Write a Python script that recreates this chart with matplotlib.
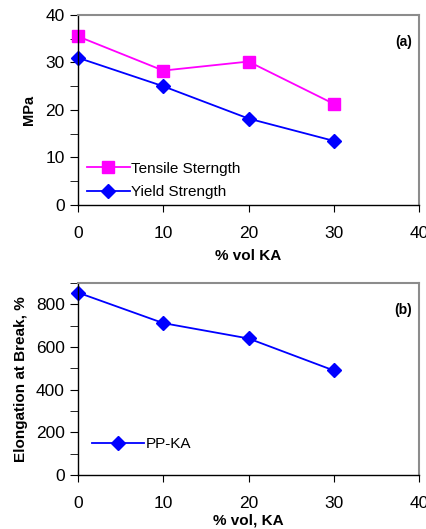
import matplotlib
matplotlib.use("Agg")
import matplotlib.pyplot as plt

plt.rcParams['font.family'] = ['Liberation Sans', 'DejaVu Sans']

# data
vol_ka = [0, 10, 20, 30]
tensile = [35.5, 28.3, 30.2, 21.3]
yield_str = [31.0, 25.0, 18.2, 13.5]
elongation = [855, 712, 640, 490]

MAGENTA = '#ff00ff'
BLUE = '#0000ff'
GREY = '#8c8c8c'


def style_axes(ax, ymax, ystep, minor):
    """estilo comun de los dos paneles"""
    ax.set_xlim(0, 40)
    ax.set_ylim(0, ymax)
    ax.set_xticks([0, 10, 20, 30, 40])
    ax.set_yticks(range(0, ymax + 1, ystep))
    ax.set_yticks(range(0, ymax + 1, minor), minor=True)
    ax.tick_params(axis='x', direction='out', length=5, pad=10, labelsize=12.5)
    ax.tick_params(axis='y', which='both', direction='out', length=6, labelsize=12.5)
    ax.spines['top'].set_color(GREY)
    ax.spines['right'].set_color(GREY)
    ax.spines['top'].set_linewidth(1.5)
    ax.spines['right'].set_linewidth(1.5)
    ax.spines['left'].set_linewidth(1.0)
    ax.spines['bottom'].set_linewidth(1.0)
# end def


fig = plt.figure(figsize=(4.26, 5.29), dpi=100)

# panel (a)
ax1 = fig.add_axes([78 / 426, 1 - 205 / 529, 341 / 426, 190 / 529])
ax1.plot(vol_ka, tensile, color=MAGENTA, lw=1.3, marker='s', ms=8,
         label='Tensile Sterngth', clip_on=False)
ax1.plot(vol_ka, yield_str, color=BLUE, lw=1.3, marker='D', ms=7,
         label='Yield Strength', clip_on=False)
style_axes(ax1, 40, 10, 5)
ax1.set_ylabel('MPa', fontsize=10.5, fontweight='bold', labelpad=7)
ax1.set_xlabel('% vol KA', fontsize=11, fontweight='bold', labelpad=6)
ax1.text(0.98, 0.86, '(a)', transform=ax1.transAxes, ha='right', va='center',
         fontsize=10, fontweight='bold')
ax1.legend(loc='lower left', bbox_to_anchor=(-0.005, -0.025), frameon=False,
           fontsize=11, handlelength=2.8, handletextpad=0.1,
           labelspacing=0.62, borderpad=0.2)

# panel (b)
ax2 = fig.add_axes([78 / 426, 1 - 475 / 529, 341 / 426, 192 / 529])
ax2.plot(vol_ka, elongation, color=BLUE, lw=1.3, marker='D', ms=7,
         label='PP-KA', clip_on=False)
style_axes(ax2, 900, 200, 100)
ax2.set_yticks(range(0, 801, 200))
ax2.set_ylabel('Elongation at Break, %', fontsize=11, fontweight='bold', labelpad=6)
ax2.set_xlabel('% vol, KA', fontsize=11, fontweight='bold', labelpad=2)
ax2.text(0.98, 0.86, '(b)', transform=ax2.transAxes, ha='right', va='center',
         fontsize=10, fontweight='bold')
ax2.legend(loc='lower left', bbox_to_anchor=(0.01, 0.07), frameon=False,
           fontsize=11, handlelength=3.4, handletextpad=0.1, borderpad=0.2)

fig.savefig('out.png', dpi=100)
